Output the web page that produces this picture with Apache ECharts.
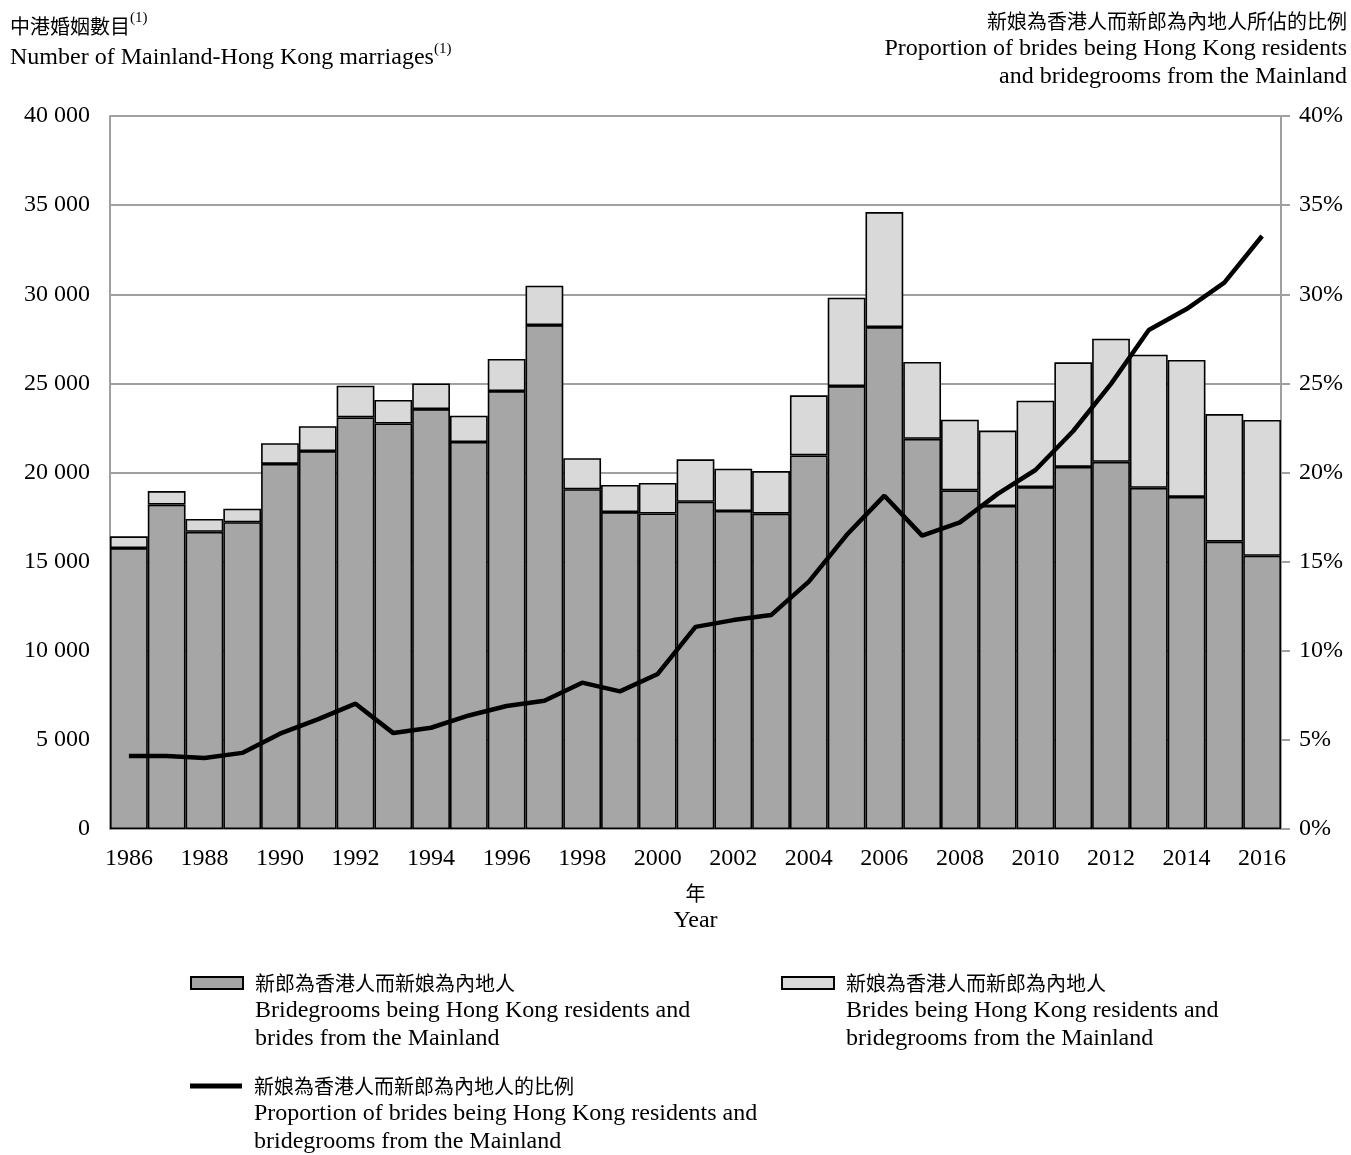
<!DOCTYPE html>
<html>
<head>
<meta charset="utf-8">
<script src="https://cdn.jsdelivr.net/npm/echarts@6/dist/echarts.min.js"></script>
<style>
html,body{margin:0;padding:0;background:#fff;}
#chart{width:1351px;height:1155px;}
</style>
</head>
<body>
<div id="chart"></div>
<script>
const years = ['1986','1987','1988','1989','1990','1991','1992','1993','1994','1995','1996','1997','1998','1999','2000','2001','2002','2003','2004','2005','2006','2007','2008','2009','2010','2011','2012','2013','2014','2015','2016'];
// Bridegrooms being HK residents, brides from the Mainland
const groomsHK = [15760,18200,16670,17210,20480,21200,23090,22750,23560,21710,24570,28270,19060,17780,17700,18360,17840,17690,20960,24850,28160,21890,19000,18120,19180,20310,20600,19140,18630,16120,15330];
// Brides being HK residents, bridegrooms from the Mainland
const bridesHK = [660,760,720,760,1160,1400,1780,1320,1440,1480,1800,2210,1740,1520,1710,2380,2370,2390,3370,4960,6450,4310,3960,4230,4850,5870,6910,7470,7680,7160,7620];
// Proportion (%) of brides being HK residents and bridegrooms from the Mainland
const proportion = [4.1,4.1,3.98,4.27,5.35,6.15,7.03,5.38,5.68,6.37,6.9,7.19,8.21,7.72,8.7,11.34,11.72,12.0,13.88,16.49,18.7,16.46,17.2,18.8,20.14,22.33,24.97,27.99,29.17,30.65,33.27];

const legendLabels = {
  grooms: ['新郎為香港人而新娘為內地人', 'Bridegrooms being Hong Kong residents and', 'brides from the Mainland'],
  brides: ['新娘為香港人而新郎為內地人', 'Brides being Hong Kong residents and', 'bridegrooms from the Mainland'],
  prop: ['新娘為香港人而新郎為內地人的比例', 'Proportion of brides being Hong Kong residents and', 'bridegrooms from the Mainland']
};

const FONT = "'Liberation Serif','Times New Roman','Noto Sans CJK TC',serif";
const CJK = "'Noto Sans CJK TC','Liberation Serif',serif";
const GREY = '#a0a0a0';

const chart = echarts.init(document.getElementById('chart'), null, {renderer:'canvas'});
const fmtThousands = v => String(v).replace(/\B(?=(\d{3})+(?!\d))/g, ' ');

const richLegend = {
  p: {width: 7, fontSize: 24, lineHeight: 28, fontFamily: FONT},
  c: {fontFamily: CJK, fontSize: 20, color: '#000', lineHeight: 28},
  t: {fontFamily: FONT, fontSize: 24, color: '#000', lineHeight: 28}
};
const legendFormatter = key => () => {
  const L = legendLabels[key];
  return '{t| }\n{t| }\n{p| }{c|' + L[0] + '}\n{p| }{t|' + L[1] + '}\n{p| }{t|' + L[2] + '}';
};
const legendText = {fontFamily: FONT, fontSize: 24, color: '#000', lineHeight: 28, rich: richLegend};

chart.setOption({
  backgroundColor: '#fff',
  animation: false,
  graphic: [
    {
      type: 'text', left: 10, top: 11, silent: true,
      style: {
        text: '{c|中港婚姻數目}{s|(1)}\n{t|Number of Mainland-Hong Kong marriages}{s|(1)}',
        rich: {
          c: {fontFamily: CJK, fontSize: 20, fill: '#000', lineHeight: 31},
          t: {fontFamily: FONT, fontSize: 24, fill: '#000', lineHeight: 31},
          s: {fontFamily: FONT, fontSize: 15, fill: '#000', lineHeight: 31, verticalAlign: 'top'}
        }
      }
    },
    {
      type: 'text', right: 4, top: 11, silent: true,
      style: {
        text: '{c|新娘為香港人而新郎為內地人所佔的比例}\n{t|Proportion of brides being Hong Kong residents}\n{t|and bridegrooms from the Mainland}',
        align: 'right',
        rich: {
          c: {fontFamily: CJK, fontSize: 20, fill: '#000', lineHeight: 28, align: 'right'},
          t: {fontFamily: FONT, fontSize: 24, fill: '#000', lineHeight: 28, align: 'right'}
        }
      }
    }
  ],
  legend: [
    {
      data: ['grooms'], left: 190, top: 913, padding: 0, selectedMode: false,
      icon: 'rect', itemWidth: 52, itemHeight: 12,
      textStyle: legendText, formatter: legendFormatter('grooms')
    },
    {
      data: ['brides'], left: 781, top: 913, padding: 0, selectedMode: false,
      icon: 'rect', itemWidth: 52, itemHeight: 12,
      textStyle: legendText, formatter: legendFormatter('brides')
    },
    {
      data: ['prop'], left: 190, top: 1016, padding: 0, selectedMode: false,
      icon: 'rect', itemWidth: 52, itemHeight: 5,
      itemStyle: {color: '#000', borderWidth: 0},
      textStyle: legendText, formatter: legendFormatter('prop')
    }
  ],
  grid: {left: 110, right: 70, top: 116, bottom: 326, containLabel: false},
  xAxis: {
    type: 'category',
    data: years,
    boundaryGap: true,
    axisLine: {show: true, lineStyle: {color: GREY, width: 2}},
    axisTick: {show: false},
    axisLabel: {interval: 1, margin: 18, fontFamily: FONT, fontSize: 24, color: '#000'},
    name: '{c|年}\n{t|Year}',
    nameLocation: 'middle',
    nameGap: 50,
    nameTextStyle: {
      color: '#000', lineHeight: 28, verticalAlign: 'top',
      rich: {
        c: {fontFamily: CJK, fontSize: 20, color: '#000', lineHeight: 28},
        t: {fontFamily: FONT, fontSize: 24, color: '#000', lineHeight: 28}
      }
    }
  },
  yAxis: [
    {
      type: 'value', min: 0, max: 40000, interval: 5000,
      axisLine: {show: true, lineStyle: {color: GREY, width: 2}},
      axisTick: {show: false},
      splitLine: {show: true, lineStyle: {color: GREY, width: 2}},
      axisLabel: {margin: 20, fontFamily: FONT, fontSize: 24, color: '#000', formatter: fmtThousands}
    },
    {
      type: 'value', min: 0, max: 40, interval: 5, position: 'right',
      axisLine: {show: true, lineStyle: {color: GREY, width: 2}},
      axisTick: {show: true, inside: false, length: 9, lineStyle: {color: GREY, width: 2}},
      splitLine: {show: false},
      axisLabel: {margin: 18, fontFamily: FONT, fontSize: 24, color: '#000', formatter: '{value}%'}
    }
  ],
  series: [
    {
      name: 'grooms', type: 'bar', stack: 'total', data: groomsHK,
      barCategoryGap: '0%',
      itemStyle: {color: '#a6a6a6', borderColor: '#000', borderWidth: 1.6}
    },
    {
      name: 'brides', type: 'bar', stack: 'total', data: bridesHK,
      barCategoryGap: '0%',
      itemStyle: {color: '#d9d9d9', borderColor: '#000', borderWidth: 1.6}
    },
    {
      name: 'prop', type: 'line', yAxisIndex: 1, data: proportion,
      symbol: 'none', z: 5,
      lineStyle: {color: '#000', width: 4.5},
      itemStyle: {color: '#000'}
    }
  ]
});
</script>
</body>
</html>
